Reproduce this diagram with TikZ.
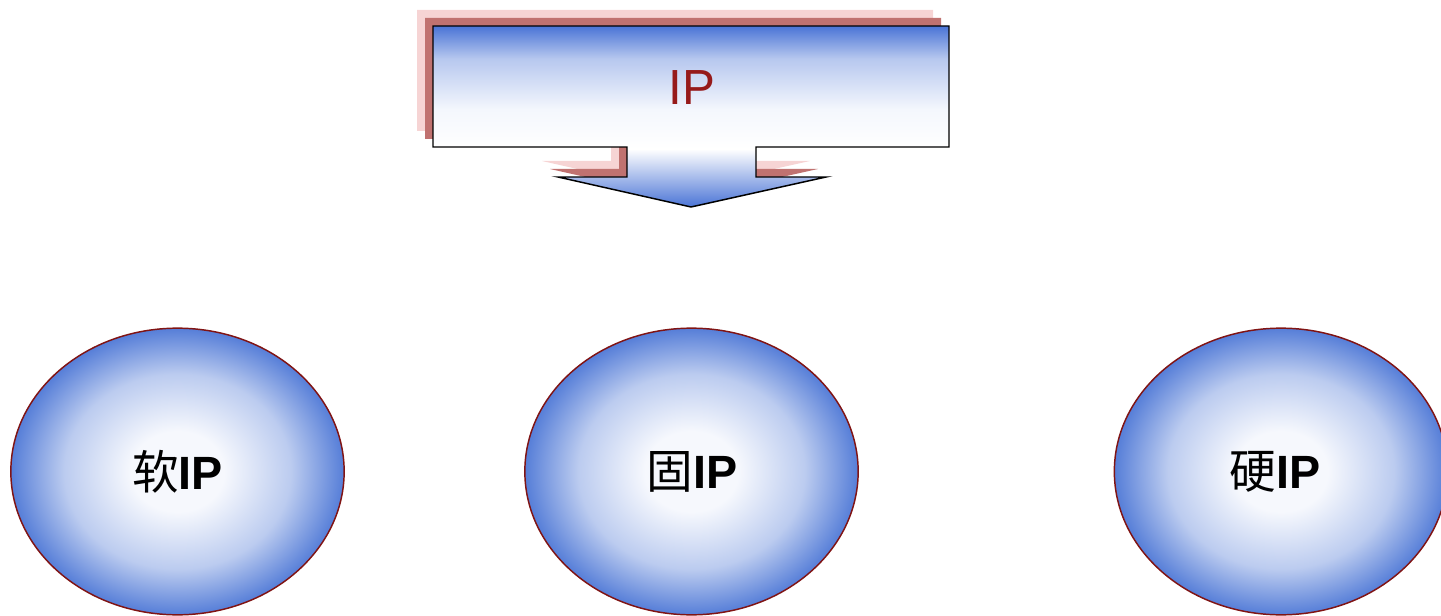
\documentclass[tikz,border=0pt]{standalone}
\usepackage{fontspec}
\setmainfont{Liberation Sans}
\newfontfamily\cjk{Noto Sans CJK SC}
\usetikzlibrary{shapes.geometric}
\definecolor{ablue}{RGB}{74,116,214}
\definecolor{awhite}{RGB}{244,247,253}
\definecolor{eblue}{RGB}{86,126,216}
\definecolor{ewhite}{RGB}{246,248,253}
\definecolor{darkshadow}{RGB}{192,114,112}
\definecolor{lightshadow}{RGB}{246,212,212}
\definecolor{iptext}{RGB}{150,26,26}
\definecolor{ellborder}{RGB}{128,20,20}
\pgfdeclareverticalshading{arrowshade}{100bp}{color(0bp)=(ablue); color(25bp)=(ablue); color(33bp)=(ablue!50!white); color(41bp)=(white); color(52bp)=(awhite); color(66bp)=(ablue!40!white); color(75bp)=(ablue); color(100bp)=(ablue)}
\pgfdeclareradialshading{ellshade}{\pgfpoint{0bp}{0bp}}{color(0bp)=(ewhite); color(7bp)=(ewhite); color(17bp)=(eblue!40!white); color(25bp)=(eblue); color(50bp)=(eblue)}
\tikzset{
  arrowbody/.style={draw=black, line width=1.1pt, shading=arrowshade},
  ipball/.style={ellipse, draw=ellborder, line width=1.1pt, shading=ellshade,
    minimum width=250pt, minimum height=215pt, inner sep=0pt},
  balllabel/.style={font=\fontsize{35}{38}\selectfont\bfseries},
}
\newcommand{\arrowshape}{(433,26) -- (949,26) -- (949,147) -- (756,147) -- (756,177) -- (826,177) -- (691,207) -- (558,177) -- (627,177) -- (627,147) -- (433,147) -- cycle}
\begin{document}
\begin{tikzpicture}[x=0.75pt,y=-0.75pt]
\useasboundingbox (0,0) rectangle (1441,616);
% shadows
\begin{scope}
  \clip (0,0) rectangle (1441,177);
  \fill[lightshadow, shift={(-16,-16)}] \arrowshape;
  \fill[darkshadow, shift={(-8,-8)}] \arrowshape;
\end{scope}
\path[arrowbody] \arrowshape;
\node[text=iptext, font=\fontsize{37}{40}\selectfont] (ip) at (692,88) {IP};
% balls
\node[ipball] (soft) at (177.5,471.5) {};
\node[ipball] (firm) at (691.5,471.5) {};
\node[ipball] (hard) at (1281,471.5) {};
\node[balllabel] (softl) at (177.5,472) {{\cjk\mdseries 软}IP};
\node[balllabel] (firml) at (692,472) {{\cjk\mdseries 固}IP};
\node[balllabel] (hardl) at (1275,472) {{\cjk\mdseries 硬}IP};
\end{tikzpicture}
\end{document}
